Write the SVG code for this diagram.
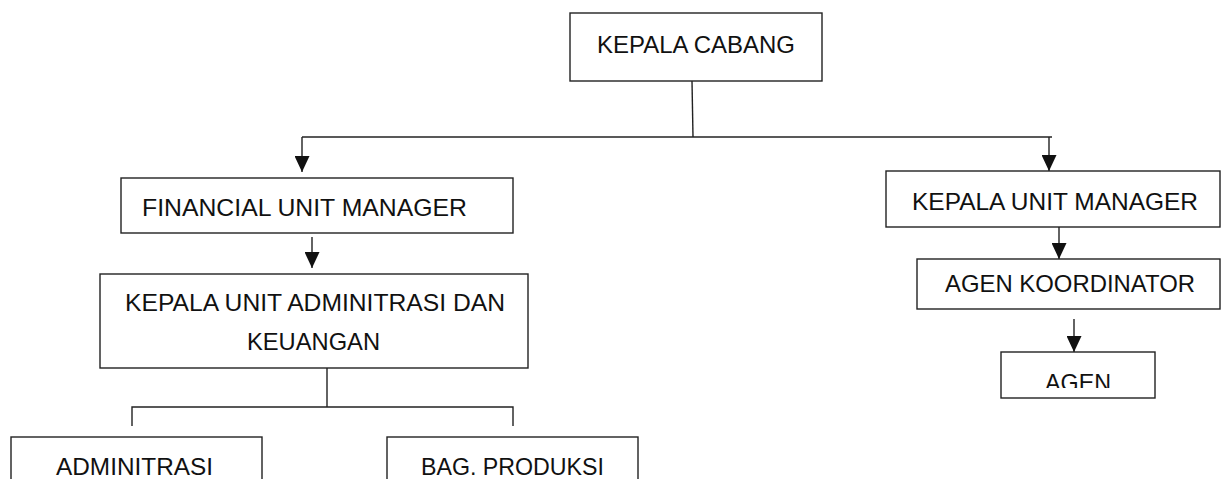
<svg xmlns="http://www.w3.org/2000/svg" width="1222" height="479" viewBox="0 0 1222 479">
<style>
.box{fill:#fff;stroke:#222;stroke-width:1.4}
.lbl{font-family:"Liberation Sans",Arial,sans-serif;font-size:24px;fill:#111}
.con{fill:none;stroke:#222;stroke-width:1.4}
</style>
<defs>
<marker id="arr" viewBox="0 0 16 15" refX="16" refY="7.5" markerWidth="16" markerHeight="15" orient="auto" markerUnits="userSpaceOnUse">
<path d="M0,0 L16,7.5 L0,15 z" fill="#111"/>
</marker>
<clipPath id="agenClip"><rect x="1001" y="352" width="154" height="36"/></clipPath>
</defs>
<g id="connectors">
<line class="con" x1="692" y1="81" x2="693" y2="137"/>
<line class="con" x1="302" y1="137" x2="1052" y2="137"/>
<line class="con" x1="302" y1="137" x2="302" y2="172" marker-end="url(#arr)"/>
<line class="con" x1="1049" y1="137" x2="1049" y2="171" marker-end="url(#arr)"/>
<line class="con" x1="312" y1="237" x2="312" y2="268" marker-end="url(#arr)"/>
<line class="con" x1="327" y1="368" x2="327" y2="407"/>
<polyline class="con" points="132,426 132,407 513,407 513,426"/>
<line class="con" x1="1059" y1="227" x2="1059" y2="259" marker-end="url(#arr)"/>
<line class="con" x1="1074" y1="319" x2="1074" y2="352" marker-end="url(#arr)"/>
</g>
<g id="kepala-cabang">
<rect class="box" x="570" y="13" width="252" height="68"/>
<text class="lbl" x="597" y="53" textLength="198" lengthAdjust="spacingAndGlyphs">KEPALA CABANG</text>
</g>
<g id="financial-unit-manager">
<rect class="box" x="121" y="178" width="392" height="55"/>
<text class="lbl" x="142" y="216" textLength="325" lengthAdjust="spacingAndGlyphs">FINANCIAL UNIT MANAGER</text>
</g>
<g id="kepala-unit-adm">
<rect class="box" x="100" y="274" width="428" height="94"/>
<text class="lbl" x="125" y="311" textLength="380" lengthAdjust="spacingAndGlyphs">KEPALA UNIT ADMINITRASI DAN</text>
<text class="lbl" x="247" y="350" textLength="133" lengthAdjust="spacingAndGlyphs">KEUANGAN</text>
</g>
<g id="administrasi">
<rect class="box" x="11" y="437" width="251" height="60"/>
<text class="lbl" x="56" y="475" textLength="157" lengthAdjust="spacingAndGlyphs">ADMINITRASI</text>
</g>
<g id="bag-produksi">
<rect class="box" x="387" y="437" width="251" height="60"/>
<text class="lbl" x="421" y="475" textLength="183" lengthAdjust="spacingAndGlyphs">BAG. PRODUKSI</text>
</g>
<g id="kepala-unit-manager">
<rect class="box" x="886" y="171" width="334" height="56"/>
<text class="lbl" x="912" y="210" textLength="286" lengthAdjust="spacingAndGlyphs">KEPALA UNIT MANAGER</text>
</g>
<g id="agen-koordinator">
<rect class="box" x="917" y="259" width="303" height="50"/>
<text class="lbl" x="945" y="292" textLength="250" lengthAdjust="spacingAndGlyphs">AGEN KOORDINATOR</text>
</g>
<g id="agen">
<rect class="box" x="1001" y="352" width="154" height="46"/>
<text class="lbl" x="1045" y="391" textLength="66" lengthAdjust="spacingAndGlyphs" clip-path="url(#agenClip)">AGEN</text>
</g>
</svg>
